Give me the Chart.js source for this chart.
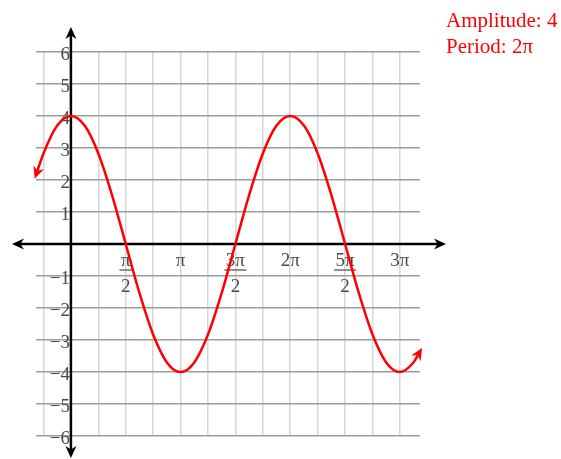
<!DOCTYPE html>
<html>
<head>
<meta charset="utf-8">
<script src="https://cdn.jsdelivr.net/npm/chart.js@4"></script>
<style>
  body { margin: 0; background: #fff; }
  #wrap { width: 561px; height: 459px; }
</style>
</head>
<body>
<div id="wrap"><canvas id="waveChart" width="561" height="459"></canvas></div>
<script>
// y = 4 cos x, one point per eighth of pi plus the two ends
const curveX = [-1, -0.785, -0.393, 0, 0.393, 0.785, 1.178, 1.571, 1.963, 2.356, 2.749, 3.142,
  3.534, 3.927, 4.320, 4.712, 5.105, 5.498, 5.890, 6.283, 6.676, 7.069, 7.461, 7.854,
  8.247, 8.639, 9.032, 9.425, 9.8, 10];
const curveY = [2.16, 2.83, 3.70, 4, 3.70, 2.83, 1.53, 0, -1.53, -2.83, -3.70, -4,
  -3.70, -2.83, -1.53, 0, 1.53, 2.83, 3.70, 4, 3.70, 2.83, 1.53, 0,
  -1.53, -2.83, -3.70, -4, -3.72, -3.36];

// vertical grid lines, in quarters of pi
const xGridQuarters = [-1, 0, 1, 2, 3, 4, 5, 6, 7, 8, 9, 10, 11, 12];

// x axis labels, written as fractions of pi
const xTickValues = [Math.PI / 2, Math.PI, 3 * Math.PI / 2, 2 * Math.PI, 5 * Math.PI / 2, 3 * Math.PI];
const xTickNumerators = ['π', 'π', '3π', '2π', '5π', '3π'];
const xTickDenominators = ['2', '', '2', '', '2', ''];

const yTickValues = [-6, -5, -4, -3, -2, -1, 1, 2, 3, 4, 5, 6];
const yTickLabels = ['−6', '−5', '−4', '−3', '−2', '−1', '1', '2', '3', '4', '5', '6'];

const infoLines = ['Amplitude: 4', 'Period: 2π'];

const SERIF = '"Liberation Serif", "Times New Roman", serif';

function arrowHead(ctx, tipX, tipY, angle, len, hw) {
  ctx.save();
  ctx.translate(tipX, tipY);
  ctx.rotate(angle);
  ctx.beginPath();
  ctx.moveTo(0, 0);
  ctx.lineTo(-len, -hw);
  ctx.lineTo(-len * 0.7, 0);
  ctx.lineTo(-len, hw);
  ctx.closePath();
  ctx.fill();
  ctx.restore();
}

const axesPlugin = {
  id: 'axesAndLabels',
  beforeDatasetsDraw(chart) {
    const { ctx, chartArea: a, scales: { x, y } } = chart;
    const x0 = x.getPixelForValue(0);
    const y0 = y.getPixelForValue(0);
    ctx.save();
    ctx.strokeStyle = '#000';
    ctx.fillStyle = '#000';
    ctx.lineWidth = 2.5;

    // x axis with arrows on both ends
    const xl = a.left - 24, xr = a.right + 26;
    ctx.beginPath();
    ctx.moveTo(xl + 8, y0);
    ctx.lineTo(xr - 8, y0);
    ctx.stroke();
    arrowHead(ctx, xl, y0, Math.PI, 12, 5.5);
    arrowHead(ctx, xr, y0, 0, 12, 5.5);

    // y axis
    const yt = a.top - 25, yb = a.bottom + 22;
    ctx.beginPath();
    ctx.moveTo(x0, yt + 8);
    ctx.lineTo(x0, yb - 8);
    ctx.stroke();
    arrowHead(ctx, x0, yt, -Math.PI / 2, 12, 5.5);
    arrowHead(ctx, x0, yb, Math.PI / 2, 12, 5.5);

    // tick labels
    ctx.fillStyle = '#4a4a4a';
    ctx.strokeStyle = '#4a4a4a';
    ctx.font = '19px ' + SERIF;
    ctx.textBaseline = 'alphabetic';
    ctx.textAlign = 'right';
    yTickValues.forEach((v, i) => {
      ctx.fillText(yTickLabels[i], x0 - 1, y.getPixelForValue(v) + 8);
    });

    ctx.textAlign = 'center';
    xTickValues.forEach((v, i) => {
      const px = x.getPixelForValue(v);
      const num = xTickNumerators[i];
      const den = xTickDenominators[i];
      ctx.fillText(num, px, y0 + 22);
      if (den) {
        const w = ctx.measureText(num).width + 3;
        ctx.lineWidth = 1.2;
        ctx.beginPath();
        ctx.moveTo(px - w / 2, y0 + 26);
        ctx.lineTo(px + w / 2, y0 + 26);
        ctx.stroke();
        ctx.fillText(den, px, y0 + 48);
      }
    });
    ctx.restore();
  },
  afterDatasetsDraw(chart) {
    const { ctx } = chart;
    const pts = chart.getDatasetMeta(0).data;
    const first = pts[0];
    const last = pts[pts.length - 1];
    ctx.save();
    ctx.fillStyle = '#ff0000';

    // curve arrows follow the tangent at each end
    let a1 = Math.atan2(first.y - first.cp2y, first.x - first.cp2x);
    if (!isFinite(a1) || (first.cp2x === first.x && first.cp2y === first.y)) {
      a1 = Math.atan2(first.y - pts[1].y, first.x - pts[1].x);
    }
    let a2 = Math.atan2(last.y - last.cp1y, last.x - last.cp1x);
    if (!isFinite(a2) || (last.cp1x === last.x && last.cp1y === last.y)) {
      a2 = Math.atan2(last.y - pts[pts.length - 2].y, last.x - pts[pts.length - 2].x);
    }
    arrowHead(ctx, first.x + 4 * Math.cos(a1), first.y + 4 * Math.sin(a1), a1, 12, 5.5);
    arrowHead(ctx, last.x + 4 * Math.cos(a2), last.y + 4 * Math.sin(a2), a2, 12, 5.5);

    ctx.font = '21px ' + SERIF;
    ctx.textAlign = 'left';
    ctx.textBaseline = 'alphabetic';
    infoLines.forEach((t, i) => ctx.fillText(t, 446, 27 + i * 26));
    ctx.restore();
  }
};

const ctx = document.getElementById('waveChart').getContext('2d');
new Chart(ctx, {
  type: 'scatter',
  data: {
    datasets: [{
      data: curveX.map((v, i) => ({ x: v, y: curveY[i] })),
      showLine: true,
      borderColor: '#ff0000',
      borderWidth: 2.5,
      pointRadius: 0,
      cubicInterpolationMode: 'monotone',
      clip: false
    }]
  },
  options: {
    responsive: false,
    animation: false,
    layout: { padding: { left: 36, right: 141, top: 52, bottom: 23 } },
    plugins: { legend: { display: false }, tooltip: { enabled: false } },
    scales: {
      x: {
        type: 'linear',
        min: -1,
        max: 10,
        afterBuildTicks: (scale) => {
          scale.ticks = xGridQuarters.map(q => ({ value: q * Math.PI / 4 }));
        },
        afterFit: (scale) => { scale.height = 0; },
        ticks: { display: false },
        border: { display: false },
        grid: { color: '#d6d6d6', lineWidth: 1.5, drawTicks: false }
      },
      y: {
        min: -6,
        max: 6,
        ticks: { display: false, stepSize: 1 },
        afterFit: (scale) => { scale.width = 0; },
        border: { display: false },
        grid: { color: '#9c9c9c', lineWidth: 1.5, drawTicks: false }
      }
    }
  },
  plugins: [axesPlugin]
});
</script>
</body>
</html>
